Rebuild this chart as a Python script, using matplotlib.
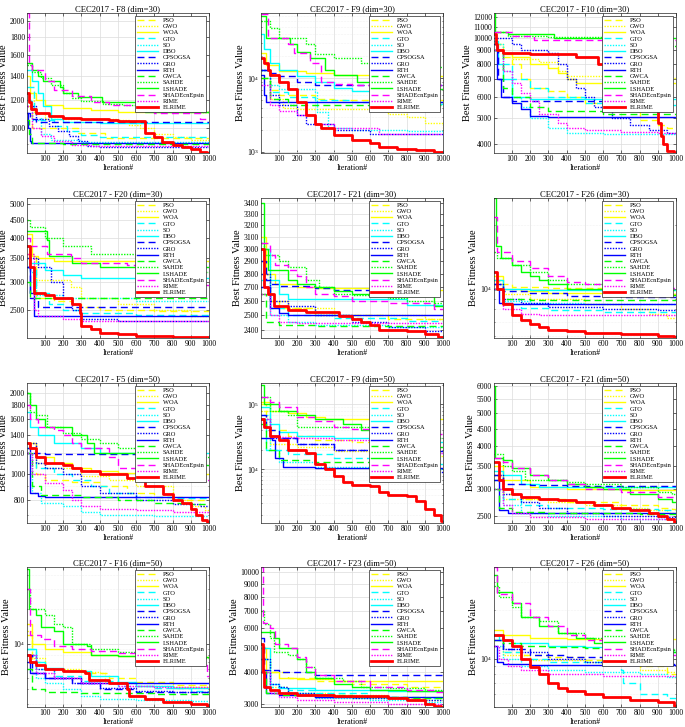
import matplotlib
matplotlib.use("Agg")
import matplotlib.pyplot as plt
from matplotlib.ticker import FixedLocator, FuncFormatter, NullFormatter, LogLocator

plt.rcParams['font.family'] = ['Liberation Serif', 'DejaVu Serif']
plt.rcParams['mathtext.fontset'] = 'stix'

# Algorithm names and their MATLAB-like line styles
ALGOS = ['PSO', 'GWO', 'WOA', 'GTO', 'SO', 'DBO', 'CPSOGSA', 'GRO', 'RTH',
         'GWCA', 'SAHDE', 'LSHADE', 'SHADEcnEpsin', 'RIME', 'ELRIME']
COLORS = ['#ffff00', '#ffff00', '#ffff00', '#00ffff', '#00ffff', '#00ffff',
          '#0000ff', '#0000ff', '#0000ff', '#00ff00', '#00ff00', '#00ff00',
          '#ff00ff', '#ff00ff', '#ff0000']
DASH = (0, (5, 3))
DOT = (0, (1, 1))
STYLES = [DASH, DOT, '-', DASH, DOT, '-', DASH, DOT, '-', DASH, DOT, '-', DASH, DOT, '-']
WIDTHS = [1.0] * 14 + [2.0]

# ---- convergence data: (iteration, best fitness) breakpoints ----
f8_30 = {
    'PSO': [(1, 1150), (30, 1000), (280, 968), (430, 939)],
    'GWO': [(1, 1250), (40, 1100), (100, 1060), (500, 1050), (560, 1020), (620, 1000), (700, 960), (800, 940), (900, 925)],
    'WOA': [(1, 1400), (20, 1250), (50, 1200), (100, 1160), (200, 1140), (350, 1125), (500, 1110)],
    'GTO': [(1, 1300), (40, 1100), (80, 1050), (150, 1010), (220, 980), (300, 955), (400, 940)],
    'SO': [(1, 1200), (30, 1050), (80, 960), (130, 925), (300, 915), (650, 910)],
    'DBO': [(1, 1450), (30, 1350), (60, 1250), (90, 1150), (130, 1060), (200, 1040), (400, 1035)],
    'CPSOGSA': [(1, 1100), (20, 1060), (50, 1040)],
    'GRO': [(1, 1150), (50, 1060), (120, 1010), (170, 980), (230, 950), (280, 920), (330, 890), (400, 885)],
    'RTH': [(1, 1100), (5, 1000), (15, 920), (25, 906)],
    'GWCA': [(1, 1050), (10, 960), (30, 905), (200, 900)],
    'SAHDE': [(1, 1500), (30, 1430), (80, 1380), (130, 1320), (200, 1250), (250, 1210), (300, 1190), (420, 1170), (520, 1160), (700, 1140), (850, 1120), (950, 1110)],
    'LSHADE': [(1, 1520), (30, 1450), (60, 1400), (90, 1350), (180, 1300), (200, 1250), (280, 1220), (410, 1185), (620, 1140), (650, 1110)],
    'SHADEcnEpsin': [(1, 2100), (10, 1500), (30, 1450), (100, 1350), (150, 1280), (250, 1230), (350, 1180), (450, 1160), (600, 1150), (700, 1100), (950, 1060)],
    'RIME': [(1, 1150), (30, 1000), (80, 950), (150, 920), (250, 895), (350, 890)],
    'ELRIME': [(1, 1250), (10, 1180), (25, 1130), (50, 1100), (120, 1080), (200, 1065), (300, 1058), (450, 1055), (500, 1045), (650, 970), (700, 940), (740, 910), (800, 895), (850, 885), (900, 870), (950, 858), (990, 850)],
}

f9_30 = {
    'PSO': [(1, 10000), (50, 7000), (100, 5900), (300, 5300), (400, 5050)],
    'GWO': [(1, 13000), (50, 5300), (120, 3900), (200, 3800), (600, 3700), (700, 3300), (800, 3000), (900, 2500), (1000, 2100)],
    'WOA': [(1, 22000), (30, 15000), (100, 12500), (250, 11800), (400, 11200), (600, 10900)],
    'GTO': [(1, 13000), (50, 6500), (150, 5600), (300, 5000), (500, 4700), (700, 4500)],
    'SO': [(1, 13000), (50, 8000), (100, 7200), (300, 6500), (310, 3500), (370, 2100), (500, 1950), (800, 1930)],
    'DBO': [(1, 40000), (20, 25000), (50, 16000), (100, 13000), (200, 10700), (300, 8800), (400, 7500), (500, 6800), (600, 6500), (650, 4800)],
    'CPSOGSA': [(1, 13000), (40, 12000), (100, 10700), (200, 8800), (300, 8000)],
    'GRO': [(1, 13000), (50, 5900), (100, 4300), (200, 3200), (250, 2400), (400, 2000), (600, 1750)],
    'RTH': [(1, 11000), (15, 6000), (30, 4800)],
    'GWCA': [(1, 10000), (50, 5300), (150, 4300)],
    'SAHDE': [(1, 60000), (50, 49000), (100, 36000), (250, 29000), (300, 21800), (400, 19000), (550, 16000), (900, 14500)],
    'LSHADE': [(1, 70000), (30, 36000), (160, 29000), (200, 23000), (270, 19000), (350, 13000), (400, 11000), (530, 9000), (650, 7200)],
    'SHADEcnEpsin': [(1, 75000), (40, 36000), (150, 29000), (180, 22000), (270, 16000), (330, 9000), (400, 8500), (500, 8000)],
    'RIME': [(1, 8000), (50, 4300), (100, 3600), (200, 3200), (300, 2400), (400, 2100), (650, 1740)],
    'ELRIME': [(1, 19000), (20, 16000), (40, 13000), (50, 11000), (100, 9000), (150, 7200), (200, 4800), (250, 3200), (300, 2400), (330, 2100), (400, 1700), (500, 1450), (600, 1300), (650, 1160), (750, 1100), (850, 1050), (950, 1000)],
}

f10_30 = {
    'PSO': [(1, 9500), (50, 8500), (100, 8000), (150, 7000), (200, 6500), (300, 6300), (400, 6000), (500, 5700), (700, 5300), (800, 4900), (900, 4700), (950, 4600)],
    'GWO': [(1, 9500), (50, 8800), (100, 8300), (250, 8100), (350, 7500), (400, 7200), (600, 7100)],
    'WOA': [(1, 9000), (50, 8700), (100, 8500), (200, 8000), (300, 7700), (350, 7400), (400, 7000), (450, 6750)],
    'GTO': [(1, 9000), (50, 8000), (100, 7000), (200, 6500), (300, 6000), (500, 5700), (700, 5600)],
    'SO': [(1, 9500), (50, 7500), (100, 6000), (150, 5500), (200, 5000), (300, 4600), (400, 4400), (600, 4350)],
    'DBO': [(1, 9700), (25, 8000), (50, 7000), (100, 6000), (200, 5900)],
    'CPSOGSA': [(1, 9000), (25, 7000), (50, 6000), (100, 5800)],
    'GRO': [(1, 10000), (100, 9500), (150, 9000), (300, 8800), (350, 8000), (400, 7000), (450, 6500), (500, 6000), (550, 5500), (650, 5000), (750, 4700), (850, 4500), (950, 4400)],
    'RTH': [(1, 9500), (20, 7000), (40, 6000), (100, 5700), (150, 5400), (200, 5100), (300, 5050)],
    'GWCA': [(1, 9000), (50, 6500), (100, 6000), (200, 5500), (300, 5300), (600, 5200)],
    'SAHDE': [(1, 10500), (80, 10200), (300, 10100), (600, 10000), (650, 9500), (950, 9300)],
    'LSHADE': [(1, 12500), (5, 10500), (80, 10300), (330, 10000)],
    'SHADEcnEpsin': [(1, 10500), (100, 10200), (220, 9800)],
    'RIME': [(1, 9000), (50, 7500), (100, 6800), (150, 6200), (200, 5800), (250, 5200), (350, 4800), (400, 4600), (500, 4500), (700, 4450), (900, 4400)],
    'ELRIME': [(1, 10300), (10, 9500), (20, 9000), (50, 8800), (200, 8700), (450, 8500), (570, 8000), (750, 7700), (850, 7000), (880, 5500), (900, 4800), (920, 4300), (930, 4000), (950, 3750), (990, 3700)],
}

f20_30 = {
    'PSO': [(1, 3600), (50, 2700), (150, 2650), (250, 2600), (300, 2550), (400, 2500), (700, 2480)],
    'GWO': [(1, 3500), (50, 3050), (240, 2900), (300, 2700), (500, 2600), (700, 2500), (900, 2400), (1000, 2380)],
    'WOA': [(1, 4100), (30, 3550), (60, 3500), (150, 3450)],
    'GTO': [(1, 3300), (50, 2800), (120, 2600), (200, 2500), (300, 2450), (600, 2420)],
    'SO': [(1, 3800), (20, 3200), (50, 2750), (200, 2700), (600, 2650)],
    'DBO': [(1, 3800), (20, 3400), (100, 3250), (200, 3150), (300, 3080)],
    'CPSOGSA': [(1, 3300), (20, 2700), (60, 2550)],
    'GRO': [(1, 3500), (60, 3300), (130, 3000), (200, 2700), (250, 2500), (300, 2350), (500, 2320)],
    'RTH': [(1, 3300), (20, 2800), (40, 2400)],
    'GWCA': [(1, 3000), (20, 2700)],
    'SAHDE': [(1, 4500), (20, 4300), (100, 4000), (200, 3800), (350, 3600), (950, 3200)],
    'LSHADE': [(1, 4200), (110, 3950), (120, 3550), (250, 3400), (400, 3300)],
    'SHADEcnEpsin': [(1, 4000), (20, 3800), (110, 3600), (240, 3500), (300, 3400), (550, 3350), (980, 2950)],
    'RIME': [(1, 3600), (40, 2500), (60, 2400), (200, 2350), (300, 2330)],
    'ELRIME': [(1, 3800), (20, 3300), (40, 2800), (100, 2750), (150, 2700), (250, 2600), (290, 2450), (300, 2250), (350, 2200), (400, 2150), (500, 2130), (600, 2110), (800, 2100), (950, 2090)],
}

f21_30 = {
    'PSO': [(1, 2800), (50, 2600), (100, 2550), (300, 2500), (700, 2470)],
    'GWO': [(1, 2900), (50, 2600), (150, 2550), (400, 2500), (900, 2470)],
    'WOA': [(1, 3100), (30, 2800), (80, 2720), (200, 2700), (300, 2690), (600, 2680)],
    'GTO': [(1, 2750), (50, 2550), (150, 2500), (400, 2480), (800, 2460)],
    'SO': [(1, 2700), (50, 2500), (150, 2450), (300, 2430), (700, 2420)],
    'DBO': [(1, 3000), (50, 2750), (100, 2650), (150, 2610), (800, 2570)],
    'CPSOGSA': [(1, 2900), (30, 2750), (50, 2720), (100, 2710), (300, 2690), (400, 2680)],
    'GRO': [(1, 2800), (50, 2600), (150, 2560), (300, 2500), (500, 2450), (700, 2420), (900, 2390)],
    'RTH': [(1, 2700), (50, 2550), (100, 2510), (150, 2500)],
    'GWCA': [(1, 2650), (30, 2450), (100, 2430), (300, 2425)],
    'SAHDE': [(1, 3050), (20, 2950), (100, 2900), (150, 2850), (250, 2750), (320, 2700), (400, 2650), (500, 2640), (700, 2620), (800, 2600), (950, 2580)],
    'LSHADE': [(1, 3400), (20, 3000), (40, 2830), (100, 2830), (150, 2750), (200, 2720), (300, 2700), (400, 2670), (500, 2650), (600, 2630), (950, 2560)],
    'SHADEcnEpsin': [(1, 3050), (50, 2950), (80, 2870), (150, 2830), (200, 2780), (250, 2700), (300, 2650), (400, 2630), (500, 2600), (700, 2580), (950, 2540)],
    'RIME': [(1, 2650), (50, 2500), (100, 2450), (200, 2445)],
    'ELRIME': [(1, 3000), (20, 2700), (40, 2650), (70, 2560), (150, 2530), (250, 2520), (420, 2520), (430, 2490), (500, 2470), (550, 2450), (600, 2430), (650, 2400), (800, 2390), (900, 2370), (970, 2350)],
}

f26_30 = {
    'PSO': [(1, 11000), (30, 10500), (100, 10200), (300, 10100), (600, 9800), (900, 9500)],
    'GWO': [(1, 11000), (50, 9500), (200, 9000), (500, 8500), (700, 8000), (850, 7600), (950, 7300)],
    'WOA': [(1, 11500), (50, 10000), (150, 9800), (300, 9600), (600, 9500)],
    'GTO': [(1, 10000), (50, 8500), (150, 8100), (300, 7900), (600, 7800)],
    'SO': [(1, 10000), (50, 8800), (200, 8600), (500, 8500)],
    'DBO': [(1, 11000), (50, 10000), (200, 9900), (500, 9850)],
    'CPSOGSA': [(1, 10500), (50, 9800), (200, 9600), (400, 9300), (700, 9200)],
    'GRO': [(1, 10500), (50, 9000), (150, 8600), (300, 8200), (600, 8000), (900, 7900)],
    'RTH': [(1, 10000), (30, 8600), (100, 8500)],
    'GWCA': [(1, 10000), (50, 9000), (200, 8900), (600, 8850)],
    'SAHDE': [(1, 15000), (20, 14000), (100, 13000), (200, 12000), (300, 11000), (400, 10500), (600, 10300), (900, 9900)],
    'LSHADE': [(1, 27000), (10, 16000), (40, 14000), (100, 13000), (150, 12000), (200, 11500), (250, 11000), (300, 10500), (400, 10000), (600, 9500), (800, 9400)],
    'SHADEcnEpsin': [(1, 22000), (20, 15000), (100, 13500), (200, 12500), (300, 11500), (400, 10800), (500, 10500), (700, 10200), (900, 10100)],
    'RIME': [(1, 10000), (50, 8000), (150, 7600), (250, 7500)],
    'ELRIME': [(1, 12000), (20, 10000), (50, 8500), (100, 7500), (150, 7100), (200, 6800), (250, 6600), (300, 6400), (400, 6300), (500, 6200), (700, 6100), (900, 6000), (990, 5900)],
}

f5_50 = {
    'PSO': [(1, 1250), (50, 1000), (100, 950), (250, 930), (400, 900), (550, 850), (700, 820), (850, 800)],
    'GWO': [(1, 1300), (50, 1100), (100, 1050), (300, 980), (450, 950), (600, 900), (800, 800), (900, 760), (980, 730)],
    'WOA': [(1, 1300), (50, 1150), (150, 1100), (250, 1050), (350, 1020), (500, 1010), (800, 1000)],
    'GTO': [(1, 1250), (50, 1050), (150, 1000), (250, 950), (350, 900), (450, 850), (600, 820), (800, 810)],
    'SO': [(1, 1200), (30, 850), (80, 780), (200, 760), (300, 720), (400, 700), (700, 695)],
    'DBO': [(1, 1700), (20, 1500), (60, 1400), (150, 1300), (300, 1250), (400, 1200), (700, 1190)],
    'CPSOGSA': [(1, 1250), (20, 1200), (100, 1180)],
    'GRO': [(1, 1300), (50, 1100), (100, 1050), (200, 1000), (300, 900), (400, 850), (600, 800), (800, 770), (950, 755)],
    'RTH': [(1, 1200), (20, 850), (60, 825), (100, 820)],
    'GWCA': [(1, 1200), (30, 900), (80, 830), (300, 820), (500, 800), (700, 780), (900, 770)],
    'SAHDE': [(1, 2000), (20, 1700), (50, 1650), (110, 1500), (200, 1420), (300, 1350), (400, 1300), (500, 1250), (600, 1220), (800, 1200), (950, 1150)],
    'LSHADE': [(1, 2000), (20, 1800), (50, 1600), (100, 1500), (250, 1400), (330, 1300), (370, 1200), (650, 1150), (900, 1100), (980, 1080)],
    'SHADEcnEpsin': [(1, 1800), (20, 1600), (60, 1500), (150, 1450), (200, 1400), (250, 1300), (300, 1250), (450, 1150), (500, 1050), (600, 1020), (800, 1000), (970, 950)],
    'RIME': [(1, 1200), (30, 1000), (100, 920), (200, 870), (250, 800), (300, 760), (400, 740), (600, 730), (800, 720)],
    'ELRIME': [(1, 1300), (20, 1250), (50, 1150), (100, 1100), (200, 1080), (250, 1050), (300, 1020), (400, 1000), (550, 960), (650, 900), (750, 840), (800, 800), (850, 780), (900, 740), (930, 700), (960, 670), (990, 660)],
}

f9_50 = {
    'PSO': [(1, 100000), (30, 40000), (150, 33000), (300, 28000), (500, 26000), (800, 25000)],
    'GWO': [(1, 80000), (50, 25000), (200, 22000), (400, 19000), (600, 17000), (900, 16000)],
    'WOA': [(1, 110000), (50, 80000), (150, 75000), (250, 65000), (350, 60000)],
    'GTO': [(1, 60000), (30, 20000), (150, 17000), (400, 15000), (600, 13000), (900, 12000)],
    'SO': [(1, 70000), (50, 20000), (100, 13000), (300, 11000), (600, 10500), (900, 10000)],
    'DBO': [(1, 90000), (50, 50000), (100, 38000), (200, 33000), (400, 30000), (600, 28000), (800, 26000)],
    'CPSOGSA': [(1, 70000), (30, 40000), (100, 30000), (200, 25000), (400, 20000), (600, 19000)],
    'GRO': [(1, 60000), (50, 30000), (200, 25000), (400, 20000), (600, 15000), (700, 11000), (900, 9000)],
    'RTH': [(1, 30000), (60, 28000), (80, 15000), (120, 11000), (300, 10500)],
    'GWCA': [(1, 50000), (30, 20000), (100, 14000), (300, 13000), (700, 12500)],
    'SAHDE': [(1, 130000), (50, 80000), (150, 70000), (200, 45000), (600, 40000), (900, 30000)],
    'LSHADE': [(1, 200000), (20, 100000), (100, 80000), (200, 70000), (300, 60000), (450, 50000), (550, 40000), (650, 25000), (900, 22000)],
    'SHADEcnEpsin': [(1, 130000), (50, 110000), (100, 90000), (200, 65000), (300, 55000), (400, 45000), (500, 42000), (600, 38000), (800, 35000)],
    'RIME': [(1, 60000), (50, 32000), (200, 30000), (400, 28000), (600, 20000), (800, 18000)],
    'ELRIME': [(1, 60000), (20, 45000), (50, 33000), (100, 28000), (150, 20000), (250, 18000), (300, 12000), (350, 10000), (400, 8000), (450, 6500), (500, 5800), (600, 5500), (650, 4500), (700, 4000), (800, 3900), (850, 3300), (900, 2500), (950, 2000), (990, 1600)],
}

f21_50 = {
    'PSO': [(1, 3300), (50, 2900), (150, 2800), (400, 2750), (700, 2700), (900, 2650), (980, 2620)],
    'GWO': [(1, 3200), (50, 2800), (300, 2750), (500, 2700), (700, 2650), (850, 2600), (950, 2560)],
    'WOA': [(1, 3500), (50, 3200), (200, 3050), (400, 3000), (700, 2990)],
    'GTO': [(1, 3200), (50, 2800), (150, 2700), (300, 2650), (600, 2620), (900, 2600)],
    'SO': [(1, 3000), (50, 2700), (150, 2550), (300, 2500), (700, 2460)],
    'DBO': [(1, 3400), (50, 3300), (150, 3100), (250, 3050)],
    'CPSOGSA': [(1, 3300), (50, 3100), (200, 3080), (400, 3060)],
    'GRO': [(1, 3300), (50, 2900), (150, 2750), (250, 2650), (400, 2550), (600, 2500), (900, 2480)],
    'RTH': [(1, 3200), (30, 2600), (80, 2560)],
    'GWCA': [(1, 3000), (30, 2650), (100, 2580), (300, 2560), (800, 2540)],
    'SAHDE': [(1, 3800), (50, 3500), (100, 3400), (170, 3200), (400, 3150), (500, 3100), (700, 3050), (900, 2950), (980, 2900)],
    'LSHADE': [(1, 6000), (5, 3700), (50, 3650), (100, 3450), (200, 3300), (300, 3200), (400, 3100), (500, 3050), (600, 3000), (750, 2900), (900, 2800), (980, 2750)],
    'SHADEcnEpsin': [(1, 3700), (50, 3600), (100, 3450), (200, 3300), (300, 3200), (400, 3100), (500, 3000), (700, 2950), (900, 2850)],
    'RIME': [(1, 3000), (50, 2700), (100, 2550), (200, 2480), (500, 2460)],
    'ELRIME': [(1, 3600), (30, 3200), (50, 3000), (100, 2900), (150, 2850), (250, 2800), (350, 2780), (450, 2750), (550, 2700), (650, 2650), (750, 2600), (850, 2550), (900, 2500), (950, 2450), (990, 2400)],
}

f16_50 = {
    'PSO': [(1, 12000), (30, 7000), (100, 6000), (200, 5800), (350, 5500), (450, 5000), (600, 4600), (800, 4400)],
    'GWO': [(1, 13000), (30, 7500), (100, 6000), (300, 5700), (400, 5600), (430, 4500), (600, 4300), (800, 4200)],
    'WOA': [(1, 15000), (30, 10000), (100, 9000), (200, 8500), (350, 8000), (500, 7800), (700, 7700)],
    'GTO': [(1, 9000), (50, 6000), (150, 5200), (300, 4700), (500, 4300), (700, 4100), (900, 3900)],
    'SO': [(1, 8000), (50, 5000), (100, 4500), (200, 4000), (300, 3500), (400, 3300), (600, 3200), (900, 3150)],
    'DBO': [(1, 9000), (50, 7000), (100, 6200), (200, 5800), (350, 5200), (500, 4600), (600, 4300), (800, 4100)],
    'CPSOGSA': [(1, 8000), (30, 5500), (100, 5000), (250, 4500), (400, 4000), (600, 3800)],
    'GRO': [(1, 8000), (50, 6000), (150, 5000), (250, 4500), (400, 4100), (600, 3900), (800, 3800)],
    'RTH': [(1, 7000), (20, 5500), (100, 5000), (300, 4500)],
    'GWCA': [(1, 6000), (30, 4000), (100, 3800), (300, 3700), (700, 3650)],
    'SAHDE': [(1, 30000), (20, 20000), (100, 18000), (150, 15000), (200, 14000), (250, 10000), (350, 9000), (500, 8500), (700, 8000), (950, 7500)],
    'LSHADE': [(1, 45000), (10, 20000), (50, 18000), (80, 14000), (150, 13000), (200, 10000), (330, 9500), (350, 8000), (500, 7800), (700, 7700)],
    'SHADEcnEpsin': [(1, 30000), (20, 12000), (80, 11000), (150, 9500), (250, 9000), (350, 8600), (500, 8300), (700, 8000), (950, 6500), (990, 5200)],
    'RIME': [(1, 8000), (50, 5500), (150, 5000), (300, 4500), (500, 4300), (700, 4200)],
    'ELRIME': [(1, 8000), (20, 7000), (50, 6500), (100, 6000), (200, 5800), (320, 5500), (340, 4800), (450, 4500), (550, 4000), (560, 3500), (650, 3300), (750, 3100), (900, 2950), (990, 2850)],
}

f23_50 = {
    'PSO': [(1, 5000), (50, 4000), (150, 3800), (300, 3700), (500, 3600), (800, 3500)],
    'GWO': [(1, 4500), (50, 3500), (150, 3300), (400, 3250), (700, 3150), (900, 3100)],
    'WOA': [(1, 5000), (30, 4000), (100, 3800), (200, 3750), (400, 3700)],
    'GTO': [(1, 4500), (50, 3500), (150, 3400), (300, 3300), (600, 3200), (900, 3150)],
    'SO': [(1, 4000), (50, 3400), (100, 3300), (300, 3150), (600, 3100), (900, 3050)],
    'DBO': [(1, 5000), (50, 3600), (100, 3450), (300, 3400), (700, 3380)],
    'CPSOGSA': [(1, 5500), (20, 4100), (100, 4000), (300, 3900)],
    'GRO': [(1, 4500), (50, 3600), (100, 3500), (150, 3300), (300, 3200), (500, 3150), (800, 3100)],
    'RTH': [(1, 4000), (30, 3300), (100, 3250), (300, 3200)],
    'GWCA': [(1, 4000), (30, 3300), (100, 3250), (500, 3200), (800, 3150)],
    'SAHDE': [(1, 7000), (20, 6200), (50, 5500), (70, 4800), (150, 4700), (200, 4500), (250, 4200), (300, 3800), (450, 3700), (550, 3500), (700, 3450), (900, 3400)],
    'LSHADE': [(1, 5800), (70, 5500), (100, 5000), (200, 4500), (250, 4000), (300, 3800), (400, 3600), (500, 3500), (600, 3400), (800, 3380)],
    'SHADEcnEpsin': [(1, 10500), (10, 6300), (50, 6000), (80, 5200), (150, 5000), (200, 4600), (250, 4200), (300, 3900), (400, 3700), (600, 3500), (800, 3400), (950, 3350)],
    'RIME': [(1, 4000), (50, 3300), (100, 3200), (200, 3100), (400, 3050), (700, 3000)],
    'ELRIME': [(1, 5200), (10, 4000), (20, 3500), (50, 3400), (100, 3300), (200, 3250), (400, 3230), (650, 3220), (700, 3150), (800, 3100), (900, 3000), (950, 2950), (990, 2920)],
}

f26_50 = {
    'PSO': [(1, 13000), (50, 11000), (150, 10500), (300, 10200), (500, 9800), (800, 9000), (950, 8000)],
    'GWO': [(1, 13000), (50, 10500), (200, 9800), (500, 9500), (800, 8500), (950, 8300)],
    'WOA': [(1, 15000), (50, 14000), (200, 13500), (400, 13300), (700, 13200)],
    'GTO': [(1, 13000), (50, 11000), (150, 10000), (300, 9500), (600, 9200), (700, 8500), (710, 7000), (800, 6000), (950, 5700)],
    'SO': [(1, 12000), (50, 10000), (150, 9000), (300, 8500), (500, 8300), (800, 8000), (950, 7700)],
    'DBO': [(1, 14000), (30, 13000), (100, 12500), (300, 12000), (500, 11800), (700, 11500), (900, 11000)],
    'CPSOGSA': [(1, 13000), (50, 11500), (200, 10500), (400, 10200), (700, 10100)],
    'GRO': [(1, 14000), (50, 11500), (150, 11000), (300, 10000), (500, 9500), (800, 9200)],
    'RTH': [(1, 12000), (20, 9500), (50, 9200), (200, 9100)],
    'GWCA': [(1, 14000), (50, 12500), (150, 12000), (300, 11800), (500, 11600), (800, 11300)],
    'SAHDE': [(1, 28000), (30, 24000), (100, 21000), (150, 18000), (250, 17000), (350, 14500), (500, 13500), (700, 12500), (950, 11500)],
    'LSHADE': [(1, 33000), (20, 26000), (100, 22000), (150, 18000), (250, 16000), (350, 14500), (450, 13500), (550, 12500), (700, 11500), (900, 11000)],
    'SHADEcnEpsin': [(1, 37000), (20, 25000), (100, 22000), (200, 18000), (300, 16000), (400, 14000), (500, 13000), (700, 12000), (950, 10500)],
    'RIME': [(1, 12000), (30, 10000), (80, 9000), (150, 8500), (300, 8000), (600, 7800)],
    'ELRIME': [(1, 14000), (50, 13000), (100, 12000), (150, 10000), (200, 8800), (250, 8000), (300, 7000), (350, 6600), (400, 6300), (500, 6000), (600, 5800), (750, 5500), (900, 5400), (990, 5100)],
}

# panel title, data, y limits, explicit y ticks (None -> decade labels)
panels = [
    ('CEC2017 - F8 (dim=30)', f8_30, (850, 2100), [1000, 1200, 1400, 1600, 1800, 2000]),
    ('CEC2017 - F9 (dim=30)', f9_30, (960, 78000), None),
    ('CEC2017 - F10 (dim=30)', f10_30, (3700, 12400), list(range(4000, 12001, 1000))),
    ('CEC2017 - F20 (dim=30)', f20_30, (2080, 5200), [2500, 3000, 3500, 4000, 4500, 5000]),
    ('CEC2017 - F21 (dim=30)', f21_30, (2345, 3450), list(range(2400, 3401, 100))),
    ('CEC2017 - F26 (dim=30)', f26_30, (5850, 27000), None),
    ('CEC2017 - F5 (dim=50)', f5_50, (655, 2180), [800, 1000, 1200, 1400, 1600, 1800, 2000]),
    ('CEC2017 - F9 (dim=50)', f9_50, (1500, 214000), None),
    ('CEC2017 - F21 (dim=50)', f21_50, (2390, 6120), [2500, 3000, 3500, 4000, 4500, 5000, 5500, 6000]),
    ('CEC2017 - F16 (dim=50)', f16_50, (2800, 47000), None),
    ('CEC2017 - F23 (dim=50)', f23_50, (2910, 10500), list(range(3000, 10001, 1000))),
    ('CEC2017 - F26 (dim=50)', f26_50, (5000, 37000), None),
]

fig = plt.figure(figsize=(6.85, 7.27), dpi=100)

# axes boxes in pixels of the 685x727 reference
col_left = [27, 261, 494]
row_bottom = [153, 338, 523, 707]
ax_w = 182
ax_h = 140

for i, (title, data, ylim, yticks) in enumerate(panels):
    r, c = divmod(i, 3)
    ax = fig.add_axes([col_left[c] / 685, 1 - row_bottom[r] / 727, ax_w / 685, ax_h / 727])

    for name, color, ls, lw in zip(ALGOS, COLORS, STYLES, WIDTHS):
        pts = data[name]
        it = [p[0] for p in pts] + [1000]
        val = [p[1] for p in pts] + [pts[-1][1]]
        ax.plot(it, val, color=color, linestyle=ls, linewidth=lw,
                drawstyle='steps-post', label=name)

    ax.set_yscale('log')
    ax.set_xlim(1, 1000)
    ax.set_ylim(*ylim)
    ax.set_xticks(range(100, 1001, 100))
    if yticks is not None:
        ax.yaxis.set_major_locator(FixedLocator(yticks))
        ax.yaxis.set_major_formatter(FuncFormatter(lambda v, p: f'{v:g}'))
    ax.yaxis.set_minor_locator(LogLocator(base=10, subs=range(1, 10)))
    ax.yaxis.set_minor_formatter(NullFormatter())

    ax.grid(True, which='major', color='#dcdcdc', linewidth=0.5)
    ax.grid(True, which='minor', axis='y', color='#e6e6e6', linewidth=0.4, linestyle=':')
    ax.set_axisbelow(True)
    ax.tick_params(which='both', direction='in', top=True, right=True, labelsize=5.5,
                   length=2, width=0.4, pad=1.5)
    ax.tick_params(which='minor', length=1)
    for sp in ax.spines.values():
        sp.set_linewidth(0.5)
        sp.set_color('#262626')

    ax.set_title(title, fontsize=6.2, pad=1.5)
    ax.set_xlabel('Iteration#', fontsize=5.8, labelpad=0.5)
    ax.set_ylabel('Best Fitness Value', fontsize=7.5, labelpad=1)

    leg = ax.legend(loc='upper right', fontsize=4.6, handlelength=3.2, labelspacing=0.12,
                    borderpad=0.3, handletextpad=0.8, borderaxespad=0.4,
                    fancybox=False, framealpha=1, edgecolor='#262626')
    leg.get_frame().set_linewidth(0.5)

fig.savefig('out.png', dpi=100)
